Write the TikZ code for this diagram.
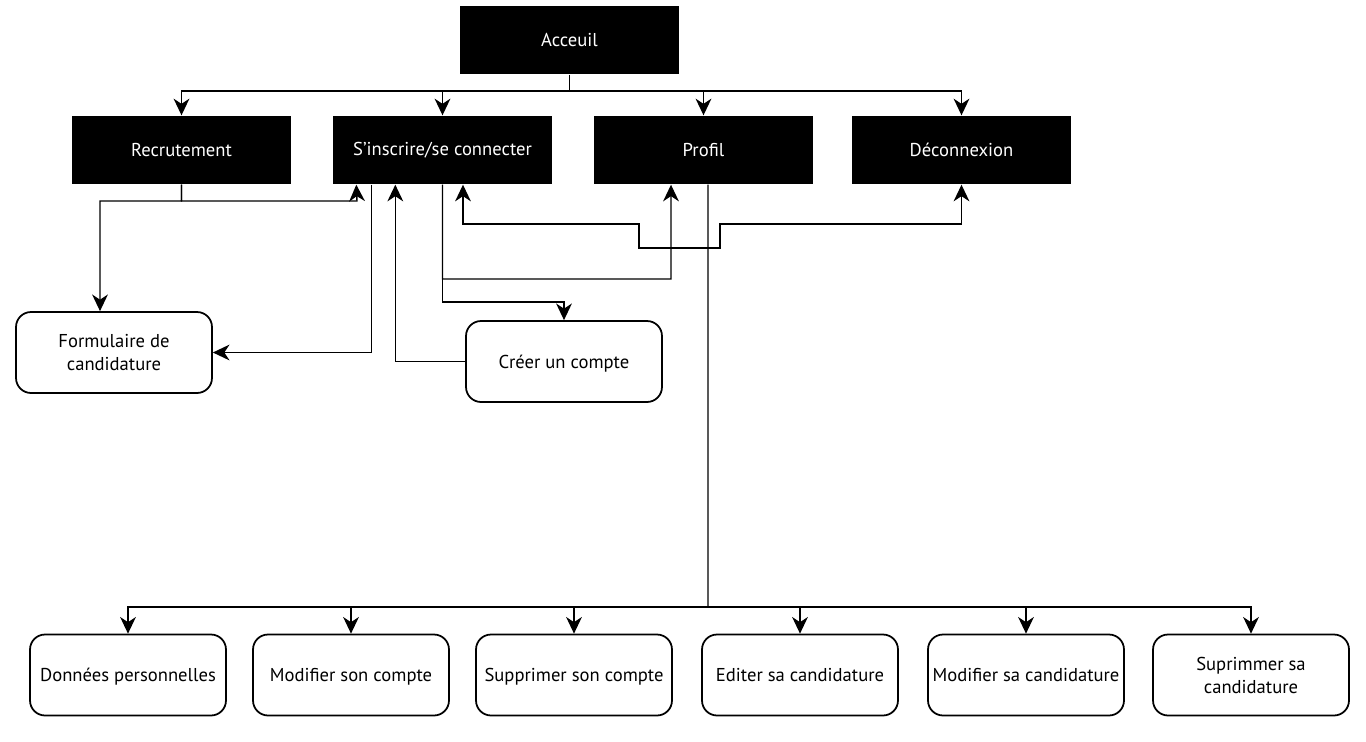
\documentclass[tikz,border=0pt]{standalone}
\usepackage{fontspec}
\setmainfont{PT Sans}
\usetikzlibrary{arrows.meta, positioning}

\tikzset{
  page/.style={rectangle, fill=black, text=white, minimum width=4.38cm, minimum height=1.36cm, inner sep=0pt, font=\fontsize{10.6}{13}\selectfont},
  action/.style={rectangle, rounded corners=0.3cm, draw=black, fill=white, line width=1pt, minimum width=3.92cm, minimum height=1.62cm, inner sep=0pt, align=center, text depth=0pt, font=\fontsize{10.6}{13}\selectfont},
}

\begin{document}
\begin{tikzpicture}[x=0.02cm, y=-0.02cm, >={Stealth[length=9.5pt,width=9pt,inset=3pt]}, line width=0.8pt]
      \useasboundingbox (0, 0) rectangle (1366, 741);

      % pages
      \node[page] (acc) at (569.5, 40) {Acceuil};
      \node[page] (rec) at (181.5, 150) {Recrutement};
      \node[page] (ins) at (442.5, 150) {S’inscrire/se connecter};
      \node[page] (pro) at (703.5, 150) {Profil};
      \node[page] (dec) at (961.5, 150) {Déconnexion};

      \node[action] (form) at (114, 352.5) {Formulaire de\\candidature};
      \node[action] (cree) at (564, 361.5) {Créer un compte};

      \node[action] (donn) at (128, 675) {Données personnelles};
      \node[action] (modc) at (351, 675) {Modifier son compte};
      \node[action] (supc) at (574, 675) {Supprimer son compte};
      \node[action] (edit) at (800, 675) {Editer sa candidature};
      \node[action] (modd) at (1026, 675) {Modifier sa candidature};
      \node[action] (supd) at (1251, 675) {Suprimmer sa\\candidature};

      % menu
      \coordinate (menu) at (569.5, 91);
      \draw (acc.south) -- (menu);
      \draw[->] (menu) -| (rec.north);
      \draw[->] (menu) -| (ins.north);
      \draw[->] (menu) -| (pro.north);
      \draw[->] (menu) -| (dec.north);

      % liens
      \draw[->] (rec.south) |- (100, 201) -- ([xshift=-0.28cm]form.north);
      \draw[->] (rec.south) |- (357, 201) -- ([xshift=0.48cm]ins.south west);
      \draw[->] ([xshift=0.78cm]ins.south west) |- (form.east);
      \draw[->] (cree.west) -| ([xshift=1.26cm]ins.south west);
      \draw[->] (ins.south) |- (564, 302) -- (cree.north);
      \draw[->] (ins.south) |- (671, 279) -- ([xshift=-0.65cm]pro.south);
      \draw[<->] ([xshift=0.41cm]ins.south) |- (639, 224) -- (639, 248) -- (720, 248) -- (720, 224) -| (dec.south);

      % profil
      \coordinate (sous) at (708, 607);
      \draw ([xshift=0.09cm]pro.south) -- (sous);
      \draw[->] (sous) -| (donn.north);
      \draw[->] (sous) -| (modc.north);
      \draw[->] (sous) -| (supc.north);
      \draw[->] (sous) -| (edit.north);
      \draw[->] (sous) -| (modd.north);
      \draw[->] (sous) -| (supd.north);

    \end{tikzpicture}
\end{document}
